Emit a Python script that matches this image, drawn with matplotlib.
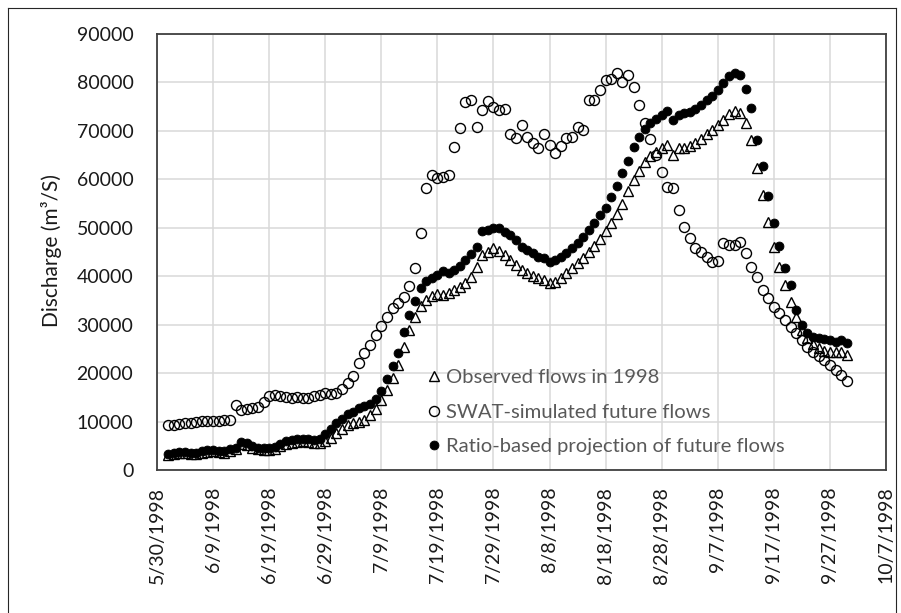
import matplotlib
matplotlib.use("Agg")
import matplotlib.pyplot as plt
import matplotlib.dates as mdates
from matplotlib.lines import Line2D
from matplotlib.ticker import FuncFormatter, FixedLocator
import pandas as pd

plt.rcParams["font.family"] = ["Lato", "DejaVu Sans"]

# Daily discharge, 1 June - 30 September 1998 (m3/s)
first_day = "1998-06-01"
last_day = "1998-09-30"

observed = [
    3100, 3400, 3500, 3500, 3400, 3400, 3600, 3800, 3900, 3700, 3600, 4000,
    4300, 5300, 5200, 4600, 4300, 4200, 4200, 4400, 5000, 5400, 5600, 5800,
    5900, 5800, 5600, 5500, 6000,
    6600, 7700, 8500, 9200, 9700, 10000, 10300, 11300, 12600, 14500,
    16600, 19000, 21700, 25400, 28800, 31500, 33800, 35000, 35900, 36300,
    36100, 36500, 37200, 37800, 38500, 39800, 41900, 44300, 45000, 45800,
    45200, 44300, 43300, 42300, 41300, 40700, 40100, 39600, 39200, 38600,
    38900, 39600, 40600, 41700, 42700, 43700, 44900, 46200, 47700, 49300,
    51000, 52800, 55000, 57500, 59800, 61800, 63500, 64800, 65700, 66500,
    67100, 65000, 66400, 66500, 66800, 67500, 68400, 69300, 70200, 71200,
    72300, 73400, 74200, 73700, 71600, 68100, 62300, 56800, 51200, 46000,
    41900, 38200, 34700, 31500, 29000, 27300, 26000, 25200, 24600, 24400,
    24300, 24300, 23800,
]

swat_simulated = [
    9300, 9300, 9500, 9600, 9800, 10000, 10100, 10100, 10200, 10200, 10300, 10400,
    13400, 12400, 12500, 12800, 13100, 14100, 15200, 15500, 15200, 15000, 14900,
    15000, 14900, 14800, 15200, 15500, 15800,
    15700, 15900, 16800, 18000, 19400, 22100, 24100, 25900, 27900, 29700,
    31600, 33500, 34500, 35800, 38000, 41800, 48900, 58200, 60900, 60300,
    60500, 60900, 66700, 70600, 76000, 76300, 70800, 74300, 76200, 74900,
    74300, 74500, 69300, 68500, 71200, 68700, 67500, 66400, 69300, 67100,
    65400, 66900, 68500, 68700, 70800, 70200, 76400, 76400, 78400, 80500,
    80700, 81900, 80100, 81500, 79000, 75300, 71600, 68300, 65000, 61500,
    58400, 58200, 53700, 50200, 47900, 45800, 45000, 44000, 42900, 43100,
    46800, 46400, 46500, 47000, 44700, 41900, 39800, 37100, 35500, 33700,
    32400, 31000, 29500, 28200, 26800, 25400, 24400, 23500, 22700, 21700,
    20600, 19600, 18400,
]

ratio_projection = [
    3300, 3600, 3800, 3800, 3600, 3600, 3900, 4100, 4200, 4000, 3900, 4300,
    4600, 5800, 5600, 5000, 4600, 4500, 4500, 4800, 5400, 5900, 6100, 6300,
    6400, 6300, 6200, 6300, 7500,
    8500, 9600, 10600, 11500, 12000, 12700, 13300, 13700, 14600, 16300,
    18700, 21400, 24100, 28500, 31900, 34900, 37600, 39000, 39700, 40200,
    41000, 40600, 41300, 42200, 43300, 44500, 46000, 49300, 49500, 49900,
    49900, 49100, 48500, 47500, 46000, 45400, 44700, 44000, 43700, 42900,
    43300, 44000, 44700, 45800, 46800, 48100, 49500, 50900, 52600, 54000,
    56400, 58600, 61300, 63800, 66700, 68700, 70300, 71600, 72500, 73300,
    74100, 72200, 73300, 73700, 73900, 74600, 75400, 76300, 77300, 78400,
    79900, 81300, 81900, 81500, 78600, 74700, 68100, 62700, 56600, 51000,
    46300, 41700, 38200, 33000, 30000, 28300, 27500, 27200, 27000, 26800,
    26500, 26800, 26200,
]

series_labels = [
    "Observed flows in 1998",
    "SWAT-simulated future flows",
    "Ratio-based projection of future flows",
]

x_ticks = pd.date_range("1998-05-30", "1998-10-07", freq="10D")
y_ticks = list(range(0, 90001, 10000))
y_label = "Discharge (m\u00b3/S)"

dates = pd.date_range(first_day, last_day, freq="D")

W, H = 901, 613
fig = plt.figure(figsize=(W / 100, H / 100), dpi=100)
fig.patch.set_facecolor("white")

# plot area in pixel coordinates
left, right, top, bottom = 157, 886, 34, 470
ax = fig.add_axes([left / W, 1 - bottom / H, (right - left) / W, (bottom - top) / H])

tri_style = dict(ls="none", marker="^", ms=6.8, mfc="none", mec="black", mew=1.0)
open_style = dict(ls="none", marker="o", ms=7.2, mfc="none", mec="black", mew=1.0)
dot_style = dict(ls="none", marker="o", ms=6.4, mfc="black", mec="black", mew=0.6)

ax.plot(dates, observed, zorder=3, **tri_style)
ax.plot(dates, swat_simulated, zorder=4, **open_style)
ax.plot(dates, ratio_projection, zorder=5, **dot_style)

ax.set_xlim(x_ticks[0], x_ticks[-1])
ax.set_ylim(y_ticks[0], y_ticks[-1])
ax.xaxis.set_major_locator(FixedLocator(mdates.date2num(x_ticks)))
ax.xaxis.set_major_formatter(
    FuncFormatter(lambda v, p: (lambda d: f"{d.month}/{d.day}/{d.year}")(mdates.num2date(v))))
ax.set_yticks(y_ticks)
ax.set_yticklabels([str(v) for v in y_ticks])

ax.grid(True, color="#d9d9d9", lw=1.1, zorder=0)
ax.set_axisbelow(True)
for s in ax.spines.values():
    s.set_color("#404040")
    s.set_linewidth(1.3)

ax.tick_params(axis="both", length=0, labelsize=14, colors="#1a1a1a")
ax.tick_params(axis="y", pad=17)
ax.tick_params(axis="x", pad=12, labelrotation=90)

fig.text(52 / W, 1 - 250 / H, y_label, rotation=90, ha="center", va="center",
         fontsize=15, color="#1a1a1a")

handles = [Line2D([], [], **tri_style), Line2D([], [], **open_style),
           Line2D([], [], **dot_style)]
leg = fig.legend(handles, series_labels, loc="upper left",
                 bbox_to_anchor=(426 / W, 1 - 369 / H), bbox_transform=fig.transFigure,
                 frameon=False, fontsize=14.6, labelcolor="#595959",
                 handlelength=0.78, handletextpad=0.2, labelspacing=0.85,
                 borderpad=0, borderaxespad=0)

# thin outline around the chart area
for xs, ys in [((8, 8), (0, H - 8)), ((8, 896), (H - 8, H - 8)), ((896, 896), (0, H - 8))]:
    fig.add_artist(Line2D([x / W for x in xs], [y / H for y in ys],
                          transform=fig.transFigure, color="#262626", lw=0.8))

fig.savefig("out.png", dpi=100)
